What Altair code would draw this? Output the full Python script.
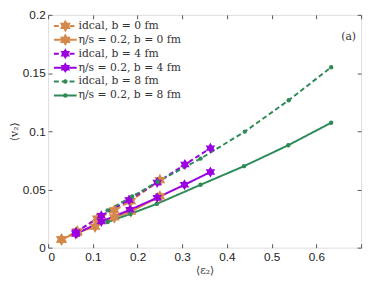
import altair as alt
import pandas as pd

# ---- data ----
series_names = [
    "idcal, b = 0 fm",
    "η/s = 0.2, b = 0 fm",
    "idcal, b = 4 fm",
    "η/s = 0.2, b = 4 fm",
    "idcal, b = 8 fm",
    "η/s = 0.2, b = 8 fm",
]

ideal_b0_x = [0.030, 0.065, 0.110, 0.148, 0.185, 0.250]
ideal_b0_y = [0.007, 0.014, 0.025, 0.032, 0.040, 0.058]
visc_b0_x = [0.030, 0.065, 0.105, 0.148, 0.185, 0.250]
visc_b0_y = [0.007, 0.013, 0.018, 0.026, 0.031, 0.044]

ideal_b4_x = [0.062, 0.119, 0.181, 0.244, 0.306, 0.363]
ideal_b4_y = [0.0132, 0.0275, 0.041, 0.056, 0.0714, 0.0855]
visc_b4_x = [0.062, 0.119, 0.183, 0.244, 0.305, 0.363]
visc_b4_y = [0.0118, 0.0224, 0.0325, 0.0429, 0.054, 0.065]

ideal_b8_x = [0.133, 0.188, 0.245, 0.341, 0.440, 0.538, 0.633]
ideal_b8_y = [0.032, 0.044, 0.0566, 0.0765, 0.0997, 0.1266, 0.155]
visc_b8_x = [0.133, 0.184, 0.243, 0.341, 0.438, 0.537, 0.633]
visc_b8_y = [0.022, 0.029, 0.0376, 0.054, 0.070, 0.088, 0.1073]

x_all_ticks = [0, 0.1, 0.2, 0.3, 0.4, 0.5, 0.6, 0.7]
y_ticks = [0, 0.05, 0.1, 0.15, 0.2]

colors = ["#D4894A", "#D4894A", "#9A00E0", "#9A00E0", "#2E8B57", "#2E8B57"]
dashes = [[5, 3], [1, 0], [5, 3], [1, 0], [5, 3], [1, 0]]
star = "M0,-1L0.29,-0.5L0.87,-0.5L0.58,0L0.87,0.5L0.29,0.5L0,1L-0.29,0.5L-0.87,0.5L-0.58,0L-0.87,-0.5L-0.29,-0.5Z"
shapes = [star, star, star, star, "circle", "circle"]
groups = [series_names[0:2], series_names[2:4], series_names[4:6]]
group_sizes = [165, 125, 20]

rows = []
for name, xs, ys in zip(
    series_names,
    [ideal_b0_x, visc_b0_x, ideal_b4_x, visc_b4_x, ideal_b8_x, visc_b8_x],
    [ideal_b0_y, visc_b0_y, ideal_b4_y, visc_b4_y, ideal_b8_y, visc_b8_y],
):
    for xv, yv in zip(xs, ys):
        rows.append({"series": name, "x": xv, "y": yv})
df = pd.DataFrame(rows)

leg = pd.DataFrame({"series": series_names, "idx": list(range(len(series_names)))})

serif = "DejaVu Serif"
sans = "Liberation Sans"

xscale = alt.Scale(domain=[0, 0.7], nice=False, zero=False)
yscale = alt.Scale(domain=[0, 0.2], nice=False, zero=False)
cscale = alt.Scale(domain=series_names, range=colors)
dscale = alt.Scale(domain=series_names, range=dashes)
shscale = alt.Scale(domain=series_names, range=shapes)

x_main = alt.X(
    "x:Q", scale=xscale,
    axis=alt.Axis(orient="bottom", values=x_all_ticks,
                  labelExpr="datum.value > 0.65 ? '' : datum.label",
                  format="~g", offset=-4, tickSize=4, domain=False, grid=False,
                  labelPadding=4, labelFont=sans, labelFontSize=12, labelColor="#222",
                  tickColor="#555", title="⟨ε₂⟩", titleFont=serif, titleFontSize=11,
                  titleFontWeight="normal", titleColor="#333", titlePadding=2),
)
y_main = alt.Y(
    "y:Q", scale=yscale,
    axis=alt.Axis(orient="left", values=y_ticks, format="~g", offset=-4, tickSize=4,
                  domain=False, grid=False, labelPadding=3, labelFont=sans,
                  labelFontSize=12, labelColor="#222", tickColor="#555",
                  title="⟨v₂⟩", titleFont=serif, titleFontSize=11, titleFontWeight="normal",
                  titleColor="#333", titlePadding=3),
)

base = alt.Chart(df)

lines = base.mark_line(strokeWidth=2).encode(
    x=x_main,
    y=y_main,
    color=alt.Color("series:N", scale=cscale, legend=None),
    strokeDash=alt.StrokeDash("series:N", scale=dscale, legend=None),
    detail="series:N",
)

frame_ticks = base.mark_point(opacity=0).encode(
    x=alt.X("x:Q", scale=xscale,
            axis=alt.Axis(orient="top", values=x_all_ticks, labels=False, offset=-4, tickSize=4,
                          domain=False, grid=False, tickColor="#555", title=None)),
    y=alt.Y("y:Q", scale=yscale,
            axis=alt.Axis(orient="right", values=y_ticks, labels=False, offset=-4, tickSize=4,
                          domain=False, grid=False, tickColor="#555", title=None)),
)

point_layers = []
for grp, sz in zip(groups, group_sizes):
    point_layers.append(
        base.transform_filter(alt.FieldOneOfPredicate(field="series", oneOf=grp))
        .mark_point(filled=True, opacity=1, strokeWidth=0, size=sz)
        .encode(
            x=alt.X("x:Q", scale=xscale, axis=None),
            y=alt.Y("y:Q", scale=yscale, axis=None),
            color=alt.Color("series:N", scale=cscale, legend=None),
            shape=alt.Shape("series:N", scale=shscale, legend=None),
        )
    )

# ---- legend built from the series list ----
legbase = alt.Chart(leg).transform_calculate(
    ly="0.1905 - datum.idx * 0.01195",
    lx1="0.013",
    lx2="0.064",
    lxm="0.0385",
    lxt="0.068",
)

leg_lines = legbase.mark_rule(strokeWidth=2).encode(
    x=alt.X("lx1:Q", scale=xscale, axis=None),
    x2="lx2:Q",
    y=alt.Y("ly:Q", scale=yscale, axis=None),
    color=alt.Color("series:N", scale=cscale, legend=None),
    strokeDash=alt.StrokeDash("series:N", scale=dscale, legend=None),
)
leg_pts = []
for grp, sz in zip(groups, group_sizes):
    leg_pts.append(
        legbase.transform_filter(alt.FieldOneOfPredicate(field="series", oneOf=grp))
        .mark_point(filled=True, opacity=1, strokeWidth=0, size=sz)
        .encode(
            x=alt.X("lxm:Q", scale=xscale, axis=None),
            y=alt.Y("ly:Q", scale=yscale, axis=None),
            color=alt.Color("series:N", scale=cscale, legend=None),
            shape=alt.Shape("series:N", scale=shscale, legend=None),
        )
    )
leg_text = legbase.mark_text(align="left", baseline="middle", font=serif, fontSize=11,
                             color="#333").encode(
    x=alt.X("lxt:Q", scale=xscale, axis=None),
    y=alt.Y("ly:Q", scale=yscale, axis=None),
    text="series:N",
)

panel = alt.Chart(pd.DataFrame({"lab": ["(a)"], "px": [0.672], "py": [0.181]})).mark_text(
    font=serif, fontSize=11, color="#333", baseline="middle", align="center"
).encode(
    x=alt.X("px:Q", scale=xscale, axis=None),
    y=alt.Y("py:Q", scale=yscale, axis=None),
    text="lab:N",
)

chart = alt.layer(
    lines, frame_ticks, *point_layers, leg_lines, *leg_pts, leg_text, panel
).resolve_axis(
    x="independent", y="independent"
).properties(
    width=320,
    height=238,
    autosize=alt.AutoSizeParams(type="none"),
    padding={"left": 41, "top": 4, "right": 5, "bottom": 28},
).configure_view(
    stroke="#666", strokeWidth=1
).configure(background="white")

chart.save("out.html", embed_options={"renderer": "svg", "actions": False})
